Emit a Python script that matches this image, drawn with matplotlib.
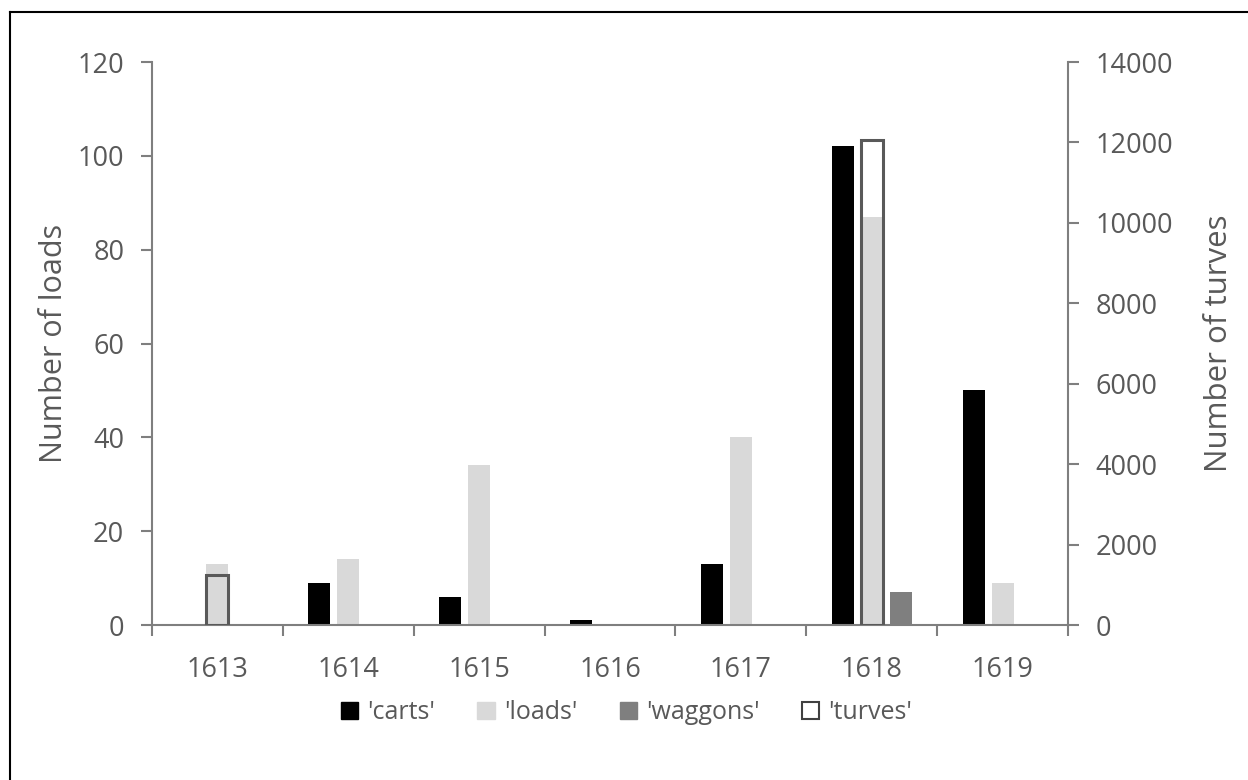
import numpy as np
import matplotlib.pyplot as plt
from matplotlib.patches import Patch

plt.rc('font', family=['Open Sans', 'DejaVu Sans'])

# DATA
years = ['1613', '1614', '1615', '1616', '1617', '1618', '1619']
carts = [0, 9, 6, 1, 13, 102, 50]
loads = [13, 14, 34, 0, 40, 87, 9]
waggons = [0, 0, 0, 0, 0, 7, 0]
turves = [1240, 0, 0, 0, 0, 12050, 0]

TXT = '#595959'
AX = '#7f7f7f'
FS = 19.5

fig = plt.figure(figsize=(12.48, 7.8), dpi=100)
ax = fig.add_axes([0.1218, 0.1987, 0.734, 0.7218])
ax2 = ax.twinx()

x = np.arange(len(years))
w = 0.168
off = 0.222

ax.bar(x - off, carts, w, color='black')
ax.bar(x, loads, w, color='#d9d9d9')
ax.bar(x + off, waggons, w, color='#7f7f7f')
tv = np.array(turves)
ax2.bar(x[tv > 0], tv[tv > 0], w, facecolor='none', edgecolor='#595959', linewidth=2.2)

ax.set_xlim(-0.5, len(years) - 0.5)
ax.set_ylim(0, 120)
ax2.set_ylim(0, 14000)
ax.set_yticks(range(0, 121, 20))
ax2.set_yticks(range(0, 14001, 2000))

ax.set_xticks(x)
ax.set_xticklabels(years)
ax.set_xticks(np.arange(-0.5, len(years), 1), minor=True)
ax.tick_params(axis='x', which='major', length=0, pad=22, labelsize=FS, labelcolor=TXT)
ax.tick_params(axis='x', which='minor', length=8, width=1.5, color=AX)
ax.tick_params(axis='y', length=8, width=1.5, color=AX, labelsize=FS, labelcolor=TXT, pad=12)
ax2.tick_params(axis='y', length=8, width=1.5, color=AX, labelsize=FS, labelcolor=TXT, pad=12)

for a in (ax, ax2):
    a.spines['top'].set_visible(False)
    for s in ('left', 'right', 'bottom'):
        a.spines[s].set_color(AX)
        a.spines[s].set_linewidth(1.5)
ax.spines['right'].set_visible(False)
ax2.spines['left'].set_visible(False)
ax2.spines['bottom'].set_visible(False)

ax.set_ylabel('Number of loads', fontsize=22, color=TXT, labelpad=6)
ax2.set_ylabel('Number of turves', fontsize=22.5, color=TXT, labelpad=22)

handles = [Patch(facecolor='black', edgecolor='black'),
           Patch(facecolor='#d9d9d9', edgecolor='#d9d9d9'),
           Patch(facecolor='#7f7f7f', edgecolor='#7f7f7f'),
           Patch(facecolor='white', edgecolor='#404040', linewidth=1.5)]
labels = ["'carts'", "'loads'", "'waggons'", "'turves'"]
leg = fig.legend(handles, labels, loc='center', bbox_to_anchor=(0.502, 0.086), ncol=4,
                 frameon=False, fontsize=18, handlelength=0.7, handleheight=0.7,
                 handletextpad=0.35, columnspacing=1.7)
for t in leg.get_texts():
    t.set_color(TXT)

# thin frame round the chart
fig.add_artist(plt.Line2D([0.008, 0.008], [0.0, 0.985], transform=fig.transFigure,
                          color='black', linewidth=1.5))
fig.add_artist(plt.Line2D([0.008, 1.0], [0.985, 0.985], transform=fig.transFigure,
                          color='black', linewidth=1.5))

fig.savefig('out.png', dpi=100)
